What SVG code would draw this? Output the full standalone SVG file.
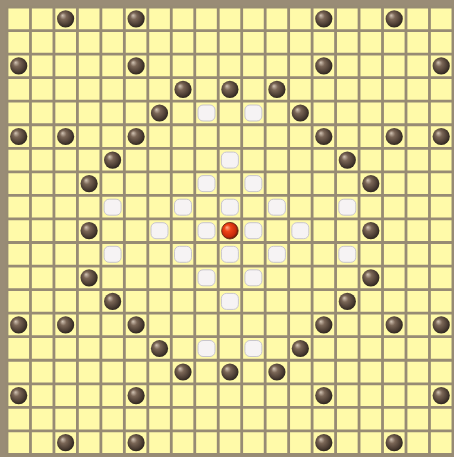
<svg xmlns="http://www.w3.org/2000/svg" xmlns:xlink="http://www.w3.org/1999/xlink" width="454" height="457" viewBox="0 0 454 457">
<style>
.grid{stroke:#978b74;stroke-width:2.8;fill:none}
</style>
<defs>
<radialGradient id="gb" cx="45%" cy="45%" r="55%" fx="32%" fy="30%">
<stop offset="0" stop-color="#d2c4b4"/>
<stop offset="0.35" stop-color="#7a6656"/>
<stop offset="0.8" stop-color="#4a3c32"/>
<stop offset="1" stop-color="#2e2620"/>
</radialGradient>
<radialGradient id="gr" cx="45%" cy="45%" r="55%" fx="32%" fy="30%">
<stop offset="0" stop-color="#ffb090"/>
<stop offset="0.35" stop-color="#f04418"/>
<stop offset="0.8" stop-color="#c82a0c"/>
<stop offset="1" stop-color="#6a1a08"/>
</radialGradient>
<circle id="b" r="8.6" fill="url(#gb)"/>
<rect id="w" x="-8.5" y="-8" width="17" height="16" rx="5" fill="#f6f3f4" stroke="#c9c6cc" stroke-width="1"/>
<circle id="r" r="8.3" fill="url(#gr)" stroke="#5a2010" stroke-width="0.8"/>
</defs>
<g id="board">
<rect x="0" y="0" width="454" height="457" fill="#998c76"/>
<rect x="7" y="7" width="446" height="447.5" fill="#fffaa9"/>
<path class="grid" d="M7 7V454.5M30.47 7V454.5M53.94 7V454.5M77.41 7V454.5M100.88 7V454.5M124.35 7V454.5M147.82 7V454.5M171.29 7V454.5M194.76 7V454.5M218.23 7V454.5M241.7 7V454.5M265.17 7V454.5M288.64 7V454.5M312.11 7V454.5M335.58 7V454.5M359.05 7V454.5M382.52 7V454.5M405.99 7V454.5M429.46 7V454.5M452.93 7V454.5M7 7H453M7 30.55H453M7 54.1H453M7 77.65H453M7 101.2H453M7 124.75H453M7 148.3H453M7 171.85H453M7 195.4H453M7 218.95H453M7 242.5H453M7 266.05H453M7 289.6H453M7 313.15H453M7 336.7H453M7 360.25H453M7 383.8H453M7 407.35H453M7 430.9H453M7 454.45H453"/>
</g>
<g id="black-stones">
<use xlink:href="#b" x="65.6" y="18.8"/><use xlink:href="#b" x="136.1" y="18.8"/><use xlink:href="#b" x="323.8" y="18.8"/><use xlink:href="#b" x="394.2" y="18.8"/>
<use xlink:href="#b" x="18.7" y="65.9"/><use xlink:href="#b" x="136.1" y="65.9"/><use xlink:href="#b" x="323.8" y="65.9"/><use xlink:href="#b" x="441.2" y="65.9"/>
<use xlink:href="#b" x="183.0" y="89.4"/><use xlink:href="#b" x="229.9" y="89.4"/><use xlink:href="#b" x="276.9" y="89.4"/>
<use xlink:href="#b" x="159.5" y="113.0"/><use xlink:href="#b" x="300.3" y="113.0"/>
<use xlink:href="#b" x="18.7" y="136.5"/><use xlink:href="#b" x="65.6" y="136.5"/><use xlink:href="#b" x="136.1" y="136.5"/><use xlink:href="#b" x="323.8" y="136.5"/><use xlink:href="#b" x="394.2" y="136.5"/><use xlink:href="#b" x="441.2" y="136.5"/>
<use xlink:href="#b" x="112.6" y="160.1"/><use xlink:href="#b" x="347.3" y="160.1"/>
<use xlink:href="#b" x="89.1" y="183.6"/><use xlink:href="#b" x="370.8" y="183.6"/>
<use xlink:href="#b" x="89.1" y="230.7"/><use xlink:href="#b" x="370.8" y="230.7"/>
<use xlink:href="#b" x="89.1" y="277.8"/><use xlink:href="#b" x="370.8" y="277.8"/>
<use xlink:href="#b" x="112.6" y="301.4"/><use xlink:href="#b" x="347.3" y="301.4"/>
<use xlink:href="#b" x="18.7" y="324.9"/><use xlink:href="#b" x="65.6" y="324.9"/><use xlink:href="#b" x="136.1" y="324.9"/><use xlink:href="#b" x="323.8" y="324.9"/><use xlink:href="#b" x="394.2" y="324.9"/><use xlink:href="#b" x="441.2" y="324.9"/>
<use xlink:href="#b" x="159.5" y="348.5"/><use xlink:href="#b" x="300.3" y="348.5"/>
<use xlink:href="#b" x="183.0" y="372.0"/><use xlink:href="#b" x="229.9" y="372.0"/><use xlink:href="#b" x="276.9" y="372.0"/>
<use xlink:href="#b" x="18.7" y="395.6"/><use xlink:href="#b" x="136.1" y="395.6"/><use xlink:href="#b" x="323.8" y="395.6"/><use xlink:href="#b" x="441.2" y="395.6"/>
<use xlink:href="#b" x="65.6" y="442.7"/><use xlink:href="#b" x="136.1" y="442.7"/><use xlink:href="#b" x="323.8" y="442.7"/><use xlink:href="#b" x="394.2" y="442.7"/>
</g>
<g id="white-stones">
<use xlink:href="#w" x="206.5" y="113.0"/><use xlink:href="#w" x="253.4" y="113.0"/>
<use xlink:href="#w" x="229.9" y="160.1"/>
<use xlink:href="#w" x="206.5" y="183.6"/><use xlink:href="#w" x="253.4" y="183.6"/>
<use xlink:href="#w" x="112.6" y="207.2"/><use xlink:href="#w" x="183.0" y="207.2"/><use xlink:href="#w" x="229.9" y="207.2"/><use xlink:href="#w" x="276.9" y="207.2"/><use xlink:href="#w" x="347.3" y="207.2"/>
<use xlink:href="#w" x="159.5" y="230.7"/><use xlink:href="#w" x="206.5" y="230.7"/><use xlink:href="#w" x="253.4" y="230.7"/><use xlink:href="#w" x="300.3" y="230.7"/>
<use xlink:href="#w" x="112.6" y="254.3"/><use xlink:href="#w" x="183.0" y="254.3"/><use xlink:href="#w" x="229.9" y="254.3"/><use xlink:href="#w" x="276.9" y="254.3"/><use xlink:href="#w" x="347.3" y="254.3"/>
<use xlink:href="#w" x="206.5" y="277.8"/><use xlink:href="#w" x="253.4" y="277.8"/>
<use xlink:href="#w" x="229.9" y="301.4"/>
<use xlink:href="#w" x="206.5" y="348.5"/><use xlink:href="#w" x="253.4" y="348.5"/>
</g>
<g id="red-stone">
<use xlink:href="#r" x="229.9" y="230.7"/>
</g>
</svg>
